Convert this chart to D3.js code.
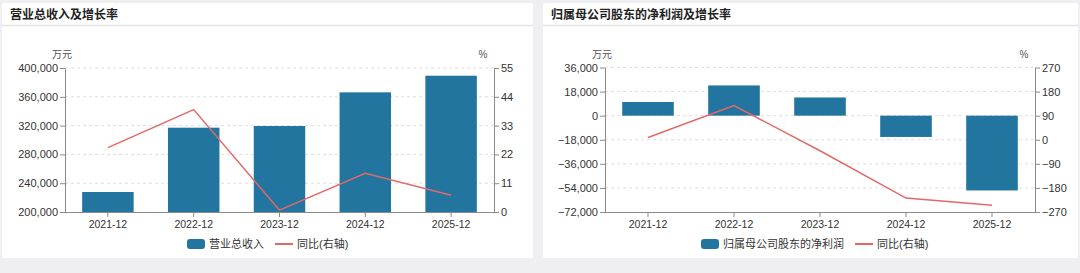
<!DOCTYPE html>
<html><head><meta charset="utf-8">
<script src="https://cdn.jsdelivr.net/npm/d3@7"></script>
<style>
html,body{margin:0;padding:0;background:#efeff1;}
svg{display:block;}
text{font-family:"Liberation Sans","Noto Sans CJK SC",sans-serif;}
</style></head>
<body><svg id="c" width="1080" height="273"></svg>
<script>
const years = ["2021-12","2022-12","2023-12","2024-12","2025-12"];
const revenue = [227800, 317100, 319400, 366200, 389300];
const revenueYoY = [24.6, 39.1, 0.7, 14.8, 6.4];
const netProfit = [10200, 22600, 13600, -15900, -55900];
const netProfitYoY = [8.6, 127.7, -41, -218, -245];
const revTicks = [200000, 240000, 280000, 320000, 360000, 400000];
const revPctTicks = [0, 11, 22, 33, 44, 55];
const npTicks = [-72000, -54000, -36000, -18000, 0, 18000, 36000];
const npPctTicks = [-270, -180, -90, 0, 90, 180, 270];
const titles = ["营业总收入及增长率", "归属母公司股东的净利润及增长率"];
const barNames = ["营业总收入", "归属母公司股东的净利润"];
const lineName = "同比(右轴)";
const unitL = "万元", unitR = "%";

const BAR = "#21759f", LINE = "#e46868", AX = "#8a8a8a", TXT = "#333";
const svg = d3.select("#c");

function panel(px, pw, title) {
  const g = svg.append("g");
  g.append("rect").attr("x", px).attr("y", 3).attr("width", pw).attr("height", 255)
    .attr("fill", "#fff").attr("rx", 2);
  g.append("line").attr("x1", px).attr("x2", px + pw).attr("y1", 25.5).attr("y2", 25.5)
    .attr("stroke", "#e4e4e4").attr("stroke-width", 1.5);
  g.append("text").attr("x", px + 8).attr("y", 15).attr("dy", "0.35em")
    .attr("font-size", 12).attr("font-weight", "bold").attr("fill", "#222").text(title);
}

function chart(o) {
  const g = svg.append("g");
  const x = d3.scaleBand().domain(years).range([o.x0, o.x1]).paddingInner(0.4).paddingOuter(0.2);
  const y = d3.scaleLinear().domain(o.yDom).range([o.y1, o.y0]);
  const y2 = d3.scaleLinear().domain(o.y2Dom).range([o.y1, o.y0]);
  // grid
  g.selectAll(".grid").data(o.yTicks.slice(1)).join("line")
    .attr("x1", o.x0).attr("x2", o.x1).attr("y1", d => y(d)).attr("y2", d => y(d))
    .attr("stroke", "#dedede").attr("stroke-dasharray", "3,3");
  // bars
  const base = o.base;
  g.selectAll(".bar").data(o.bars).join("rect")
    .attr("x", (d, i) => x(years[i])).attr("width", x.bandwidth())
    .attr("y", d => y(Math.max(d, base))).attr("height", d => Math.abs(y(d) - y(base)))
    .attr("fill", BAR);
  // line
  const line = d3.line().x((d, i) => x(years[i]) + x.bandwidth() / 2).y(d => y2(d));
  g.append("path").datum(o.line).attr("d", line).attr("fill", "none")
    .attr("stroke", LINE).attr("stroke-width", 1.5);
  // axes
  const styleAxis = (sel) => {
    sel.selectAll("path,line").attr("stroke", AX);
    sel.selectAll("text").attr("fill", TXT).attr("font-size", 11)
      .style("font-family", '"Liberation Sans","Noto Sans CJK SC",sans-serif');
  };
  g.append("g").attr("transform", `translate(${o.x0},0)`)
    .call(d3.axisLeft(y).tickValues(o.yTicks).tickSize(5).tickSizeOuter(0).tickPadding(2)
      .tickFormat(d3.format(",")))
    .call(styleAxis);
  g.append("g").attr("transform", `translate(${o.x1},0)`)
    .call(d3.axisRight(y2).tickValues(o.y2Ticks).tickSize(5).tickSizeOuter(0).tickPadding(2))
    .call(styleAxis);
  const xa = g.append("g").attr("transform", `translate(0,${o.y1})`)
    .call(d3.axisBottom(x).tickSize(5).tickSizeOuter(0).tickPadding(4))
    .call(styleAxis);
  xa.select(".domain").attr("d", `M${o.x0},0.5H${o.x1}`);
  xa.selectAll("text").attr("font-size", 10.5);
  // units
  g.append("text").attr("x", o.x0 - 3).attr("y", 54).attr("dy", "0.35em").attr("text-anchor", "middle")
    .attr("font-size", 10).attr("fill", "#555").text(unitL);
  g.append("text").attr("x", o.x1 - 11).attr("y", 54).attr("dy", "0.35em").attr("text-anchor", "middle")
    .attr("font-size", 10).attr("fill", "#555").text(unitR);
  // legend
  const lg = g.append("g");
  lg.append("rect").attr("x", o.lx).attr("y", 239).attr("width", 18).attr("height", 10)
    .attr("rx", 3).attr("fill", BAR);
  const t1 = lg.append("text").attr("x", o.lx + 22).attr("y", 244).attr("dy", "0.35em")
    .attr("font-size", 11).attr("fill", TXT).text(o.barName);
  const w = t1.node().getComputedTextLength();
  const lx2 = o.lx + 22 + w + 11;
  lg.append("line").attr("x1", lx2).attr("x2", lx2 + 18).attr("y1", 244).attr("y2", 244)
    .attr("stroke", LINE).attr("stroke-width", 2);
  lg.append("text").attr("x", lx2 + 22).attr("y", 244).attr("dy", "0.35em")
    .attr("font-size", 11).attr("fill", TXT).text(lineName);
}

panel(2, 531, titles[0]);
panel(543, 535, titles[1]);

chart({x0: 65, x1: 494, y0: 68, y1: 212, yDom: [200000, 400000], y2Dom: [0, 55],
  yTicks: revTicks, y2Ticks: revPctTicks, bars: revenue, line: revenueYoY, base: 200000,
  barName: barNames[0], lx: 187});
chart({x0: 605, x1: 1035, y0: 67.5, y1: 212, yDom: [-72000, 36000], y2Dom: [-270, 270],
  yTicks: npTicks, y2Ticks: npPctTicks, bars: netProfit, line: netProfitYoY, base: 0,
  barName: barNames[1], lx: 701});
</script></body></html>
